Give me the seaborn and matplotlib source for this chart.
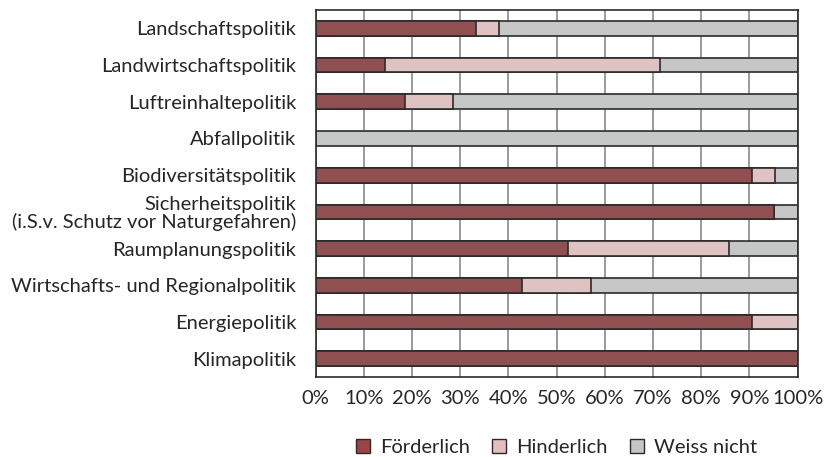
import matplotlib
matplotlib.use("Agg")
import matplotlib.pyplot as plt
import seaborn as sns
import pandas as pd
import numpy as np
from matplotlib.patches import Patch

# data (percent of answers)
politiken = [
    "Landschaftspolitik",
    "Landwirtschaftspolitik",
    "Luftreinhaltepolitik",
    "Abfallpolitik",
    "Biodiversitätspolitik",
    "Sicherheitspolitik\n(i.S.v. Schutz vor Naturgefahren)",
    "Raumplanungspolitik",
    "Wirtschafts- und Regionalpolitik",
    "Energiepolitik",
    "Klimapolitik",
]
foerderlich = [33.3, 14.3, 18.5, 0.0, 90.5, 95.2, 52.4, 42.9, 90.5, 100.0]
hinderlich = [4.8, 57.1, 10.0, 0.0, 4.8, 0.0, 33.3, 14.3, 9.5, 0.0]
weiss_nicht = [61.9, 28.6, 71.5, 100.0, 4.7, 4.8, 14.3, 42.8, 0.0, 0.0]

labels = ["Förderlich", "Hinderlich", "Weiss nicht"]
colors = ["#9B4446", "#E3BEBD", "#C5C6C6"]

df = pd.DataFrame({"politik": politiken, "f": foerderlich, "h": hinderlich, "w": weiss_nicht})
df["c1"] = df["f"]
df["c2"] = df["f"] + df["h"]
df["c3"] = df["c2"] + df["w"]

sns.set_style("white")
plt.rcParams["font.family"] = ["Lato", "DejaVu Sans"]
FS = 14.5

fig, ax = plt.subplots(figsize=(8.24, 4.57), dpi=100)
fig.subplots_adjust(left=0.383, right=0.968, top=0.978, bottom=0.175)

# stacked bars: draw cumulative totals from the back to the front
for col, c in zip(["c3", "c2", "c1"], colors[::-1]):
    sns.barplot(data=df, x=col, y="politik", orient="h", color=c, width=0.4,
                edgecolor="#2b2b2b", linewidth=1.2, ax=ax, order=politiken)
# hide zero-width bars
for p in ax.patches:
    if p.get_width() <= 0:
        p.set_visible(False)

ax.set_xlim(0, 100)
ax.set_ylim(len(politiken) - 0.5, -0.5)
ax.set_xticks(np.arange(0, 101, 10))
ax.set_xticklabels([f"{v}%" for v in range(0, 101, 10)], fontsize=FS)
ax.set_xlabel("")
ax.set_ylabel("")
ax.xaxis.grid(True, color="#8a8a8a", linewidth=1.2)
ax.set_axisbelow(True)
for lab in ax.get_yticklabels():
    lab.set_multialignment("right")
    lab.set_fontsize(FS)
    lab.set_linespacing(1.0)
ax.tick_params(axis="y", length=0, pad=14)
ax.tick_params(axis="x", length=5, color="#2b2b2b", direction="out", pad=4)
ax.set_yticks(np.arange(-0.5, len(politiken), 1), minor=True)
ax.tick_params(axis="y", which="minor", length=5, color="#2b2b2b")
for s in ax.spines.values():
    s.set_color("#2b2b2b")
    s.set_linewidth(1.2)

handles = [Patch(facecolor=c, edgecolor="#2b2b2b", linewidth=1.0) for c in colors]
ax.legend(handles, labels, loc="upper center", bbox_to_anchor=(0.5, -0.12), ncol=3,
          frameon=False, fontsize=FS, handlelength=0.7, handleheight=0.7,
          columnspacing=1.1, handletextpad=0.5)

fig.savefig("out.png", dpi=100)
